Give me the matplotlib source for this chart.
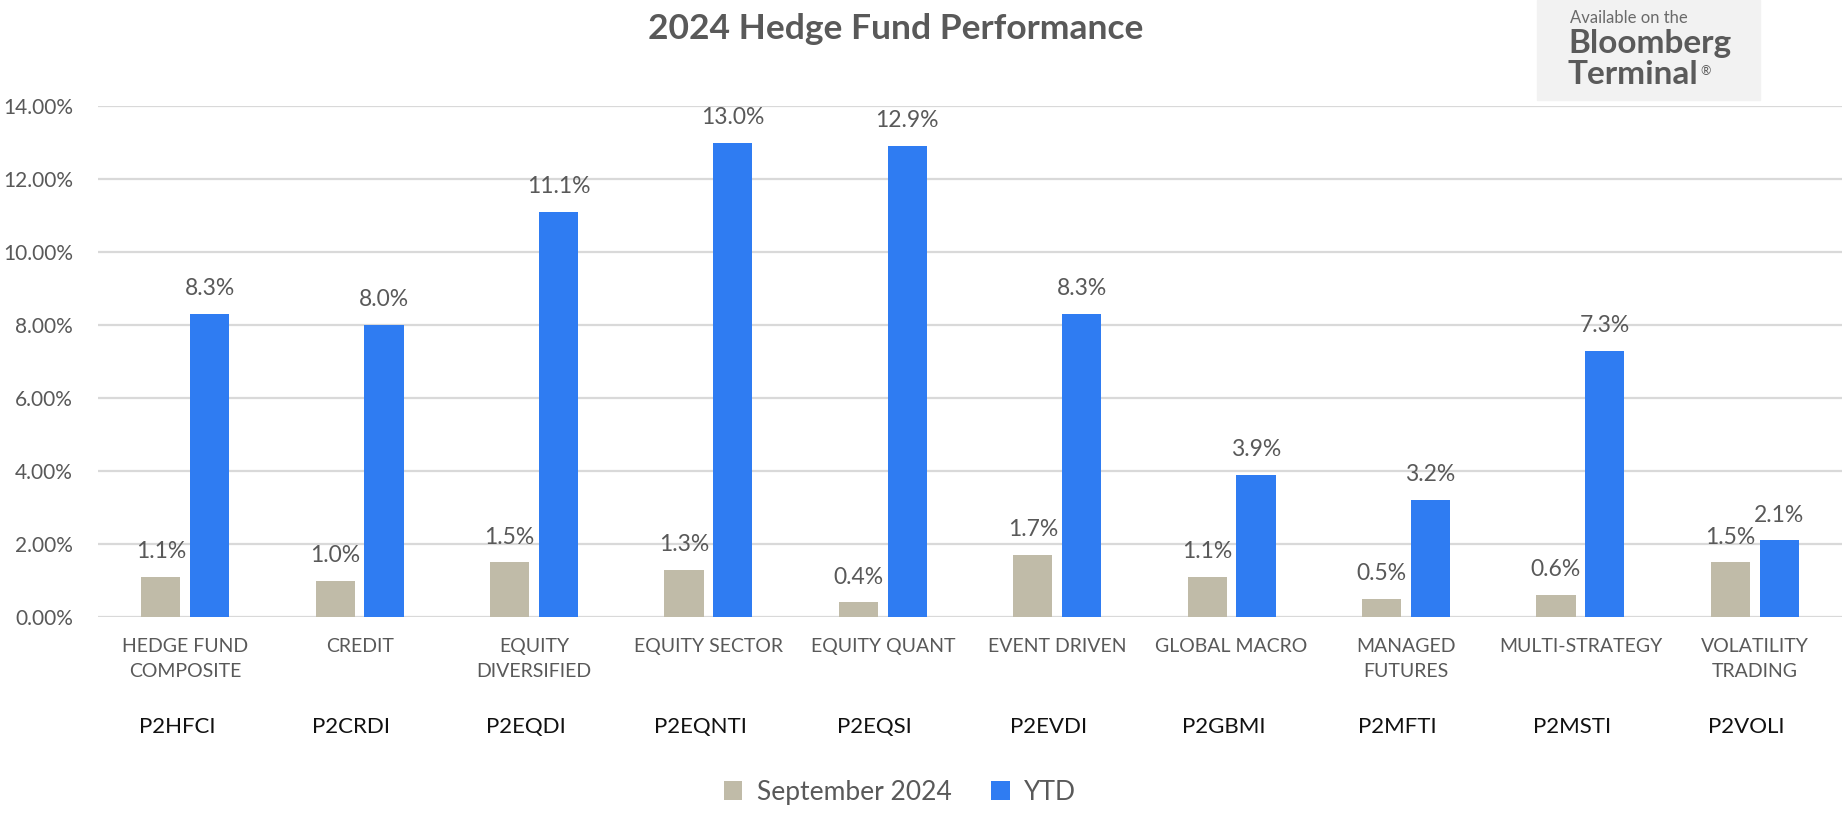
import matplotlib
matplotlib.use('Agg')
import matplotlib.pyplot as plt
from matplotlib.patches import Rectangle
import numpy as np

plt.rcParams['font.family'] = ['Lato', 'DejaVu Sans']

# Chart data
categories = ['HEDGE FUND\nCOMPOSITE', 'CREDIT', 'EQUITY\nDIVERSIFIED', 'EQUITY SECTOR',
              'EQUITY QUANT', 'EVENT DRIVEN', 'GLOBAL MACRO', 'MANAGED\nFUTURES',
              'MULTI-STRATEGY', 'VOLATILITY\nTRADING']
tickers = ['P2HFCI', 'P2CRDI', 'P2EQDI', 'P2EQNTI', 'P2EQSI',
           'P2EVDI', 'P2GBMI', 'P2MFTI', 'P2MSTI', 'P2VOLI']
september = [1.1, 1.0, 1.5, 1.3, 0.4, 1.7, 1.1, 0.5, 0.6, 1.5]
ytd = [8.3, 8.0, 11.1, 13.0, 12.9, 8.3, 3.9, 3.2, 7.3, 2.1]
series_names = ['September 2024', 'YTD']

grey = '#c0bba8'
blue = '#2f7cf2'
text_grey = '#595959'

W, H = 1846, 830
fig = plt.figure(figsize=(W / 100, H / 100), dpi=100)
ax = fig.add_axes([98 / W, 1 - 617 / H, (1842 - 98) / W, (617 - 106) / H])

x = np.arange(len(categories))
width = 0.224
b1 = ax.bar(x - 0.14, september, width, color=grey, label=series_names[0], zorder=3)
b2 = ax.bar(x + 0.14, ytd, width, color=blue, label=series_names[1], zorder=3)

# value labels above each bar
for bars, vals in [(b1, september), (b2, ytd)]:
    for rect, v in zip(bars, vals):
        ax.annotate(f'{v:.1f}%', xy=(rect.get_x() + rect.get_width() / 2, v),
                    xytext=(0, 13.5), textcoords='offset points',
                    ha='center', va='baseline', fontsize=16.5, color=text_grey)

ax.set_xlim(-0.5, len(categories) - 0.5)
ax.set_ylim(0, 14)
ax.set_yticks(np.arange(0, 15, 2))
ax.set_yticklabels([f'{t:.2f}%' for t in np.arange(0, 15, 2)], fontsize=15, color=text_grey)
ax.set_xticks(x)
ax.set_xticklabels(categories, fontsize=14, color=text_grey, linespacing=1.6)
ax.tick_params(axis='both', length=0)
ax.tick_params(axis='x', pad=15)
ax.tick_params(axis='y', pad=18)
ax.grid(axis='y', color='#d9d9d9', linewidth=1.6, zorder=0)
for s in ax.spines.values():
    s.set_visible(False)

# ticker codes under category names
for i, t in enumerate(tickers):
    ax.annotate(t, xy=(i, 0), xycoords=('data', 'axes fraction'),
                xytext=(-6, -79), textcoords='offset points',
                ha='center', va='center', fontsize=16, color='#111111')

fig.text(896 / W, 1 - 29 / H, '2024 Hedge Fund Performance', ha='center', va='center',
         fontsize=25.5, fontweight='bold', color=text_grey)

# Bloomberg badge
fig.add_artist(Rectangle((1537 / W, 1 - 100 / H), 223 / W, 100 / H,
                         transform=fig.transFigure, color='#f2f2f2', zorder=0))
fig.text(1570 / W, 1 - 18 / H, 'Available on the', ha='left', va='center',
         fontsize=12, color='#6a6a6a')
fig.text(1568 / W, 1 - 44 / H, 'Bloomberg', ha='left', va='center',
         fontsize=24, fontweight='bold', color='#5a5a5a')
term = fig.text(1568 / W, 1 - 74 / H, 'Terminal', ha='left', va='center',
                fontsize=24, fontweight='bold', color='#5a5a5a')
fig.canvas.draw()
bb = term.get_window_extent().transformed(fig.transFigure.inverted())
fig.text(bb.x1 + 2 / W, bb.y1 - 6 / H, '\u00ae', ha='left', va='top',
         fontsize=9, color='#5a5a5a')

fig.legend(handles=[b1, b2], loc='center', bbox_to_anchor=(900 / W, 1 - 792 / H),
           ncol=2, frameon=False, fontsize=19, handlelength=0.7, handleheight=0.7,
           handletextpad=0.55, columnspacing=1.5, labelcolor=text_grey)

fig.savefig('out.png', dpi=100)
